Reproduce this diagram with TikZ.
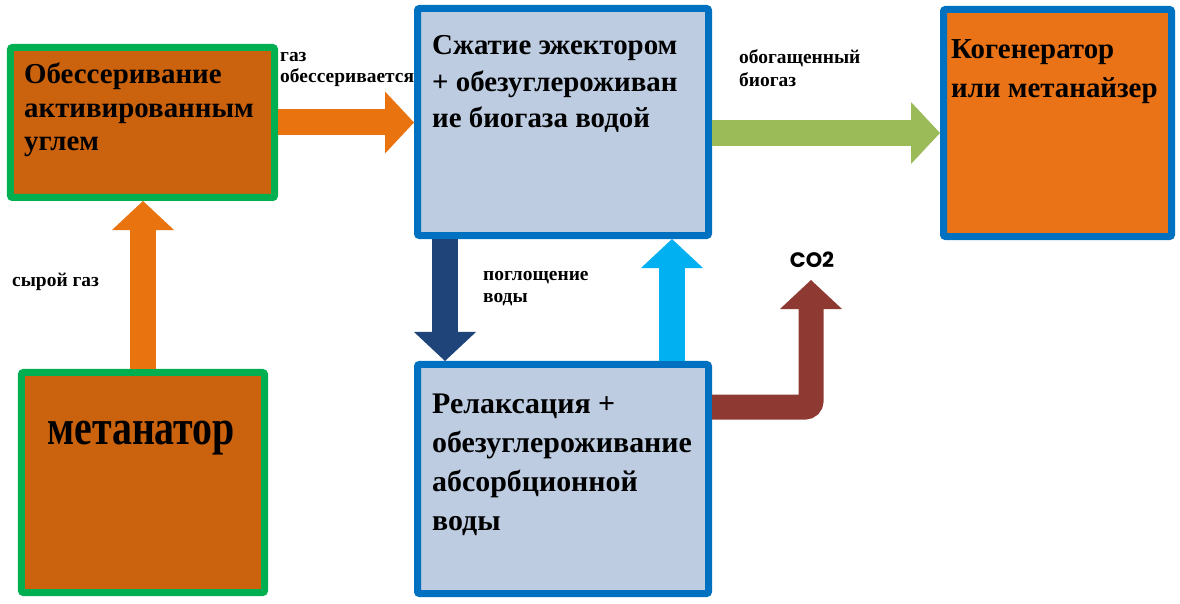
\documentclass[tikz,border=0pt]{standalone}
\usepackage{fontspec}
\setmainfont{Liberation Serif}
\newfontfamily\cofont{Poppins}
\usepackage{graphicx}
\usetikzlibrary{arrows.meta,positioning,calc}
\definecolor{boxrust}{HTML}{CB620D}
\definecolor{boxorange}{HTML}{E97316}
\definecolor{paleblue}{HTML}{BDCCE1}
\definecolor{edgegreen}{HTML}{00B050}
\definecolor{edgeblue}{HTML}{0070C0}
\definecolor{arrorange}{HTML}{E9730F}
\definecolor{arrgreen}{HTML}{9BBB59}
\definecolor{arrnavy}{HTML}{1F4479}
\definecolor{arrsky}{HTML}{00B0F0}
\definecolor{arrbrown}{HTML}{8E3A32}
\tikzset{
  box/.style={draw, line width=7bp, rounded corners=2bp, inner sep=0pt, outer sep=3.5bp},
  boxtxt/.style={anchor=base west, align=left, inner sep=0pt, font=\fontsize{29}{#1}\selectfont\bfseries},
  boxtxt/.default=37,
  lbl/.style={anchor=base west, align=left, inner sep=0pt, font=\fontsize{19.5}{#1}\selectfont\bfseries},
  lbl/.default=23,
  flow/.style={line width=26bp, -{Triangle[width=62bp,length=29bp,line width=0pt]}}
}

\begin{document}
\begin{tikzpicture}[x=1bp, y=-1bp]
\useasboundingbox (0,0) rectangle (1180,604);
\node[box, draw=edgegreen, fill=boxrust, minimum width=264bp, minimum height=150bp] (desulf) at (142.5,122.5) {};
\node[box, draw=edgegreen, fill=boxrust, minimum width=243bp, minimum height=220bp] (methan) at (143,482.5) {};
\node[box, draw=edgeblue, fill=paleblue, minimum width=291bp, minimum height=227bp] (eject) at (563,122) {};
\node[box, draw=edgeblue, fill=paleblue, minimum width=291bp, minimum height=229bp] (relax) at (563,479) {};
\node[box, draw=edgeblue, fill=boxorange, minimum width=228bp, minimum height=227bp] (cogen) at (1057.5,123) {};

\node[boxtxt=34] (desulftxt) at ($(desulf.north west)+(17,107)$) {Обессеривание\\активированным\\углем};
\node[boxtxt, font=\fontsize{50}{50}\selectfont\bfseries] (methantxt) at ($(methan.north west)+(29,76)$) {\scalebox{0.8}[1]{метанатор}};
\node[boxtxt=37] (ejecttxt) at ($(eject.north west)+(18,123)$) {Сжатие эжектором\\+ обезуглероживан\\ие биогаза водой};
\node[boxtxt, font=\fontsize{30}{39}\selectfont\bfseries] (relaxtxt) at ($(relax.north west)+(18,169)$) {Релаксация +\\обезуглероживание\\абсорбционной\\воды};
\node[boxtxt=40] (cogentxt) at ($(cogen.north west)+(11,92)$) {Когенератор\\или метанайзер};

\node[lbl=22] (gaslbl) at (280,83) {газ\\обессеривается};
\node[lbl=24] (richlbl) at (739,87) {обогащенный\\биогаз};
\node[lbl] (rawlbl) at (12,287) {сырой газ};
\node[lbl] (waterlbl) at (483,303) {поглощение\\воды};
\node[anchor=base, inner sep=0pt, font=\cofont\bfseries\fontsize{21}{21}\selectfont] (co2) at (812,268) {CO2};

\coordinate (gy) at (0,133);
\coordinate (bx) at (445,0);
\coordinate (lx) at (672,0);
\coordinate (ry) at (0,407);
\coordinate (co2tip) at (811,280);

\draw[flow, arrorange] (methan.north) -- (methan.north |- desulf.south);
\draw[flow, arrorange] (desulf.east) -- (desulf.east -| eject.west);
\draw[flow, arrgreen] (eject.east |- gy) -- (cogen.west |- gy);
\draw[flow, arrnavy] (eject.south -| bx) -- (relax.north -| bx);
\draw[flow, arrsky] (relax.north -| lx) -- (eject.south -| lx);
\draw[flow, arrbrown, line width=25bp, rounded corners=6bp] (relax.east |- ry) -| (co2tip);
\end{tikzpicture}
\end{document}
